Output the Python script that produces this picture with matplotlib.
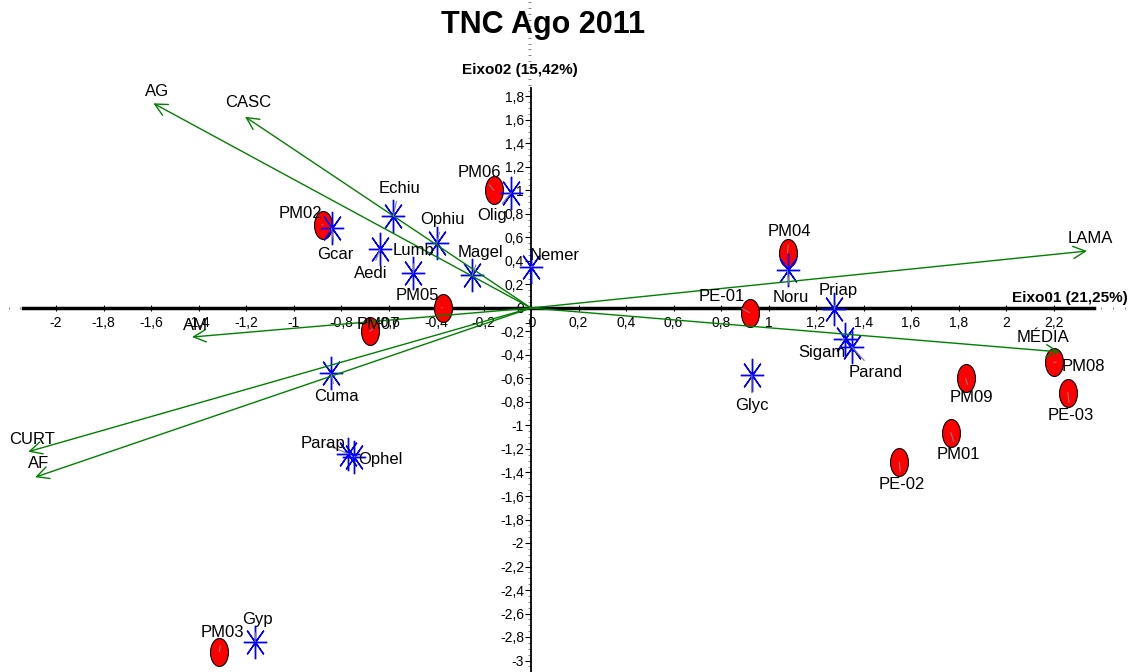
import numpy as np
from matplotlib import pyplot as plt
from matplotlib import font_manager
from matplotlib.markers import MarkerStyle
from matplotlib.transforms import Affine2D
from matplotlib.ticker import MultipleLocator, FuncFormatter

# Pick a narrow sans font if one is installed
names = {f.name for f in font_manager.fontManager.ttflist}
base_font = "Liberation Sans Narrow" if "Liberation Sans Narrow" in names else "Liberation Sans"
plt.rcParams["font.family"] = [base_font, "DejaVu Sans"]

# Sites (red ellipses)
site_names = ["PM06", "PM02", "PM05", "PM07", "PM04", "PE-01", "PM08", "PE-03",
              "PM09", "PM01", "PE-02", "PM03"]
site_x = [-0.156, -0.876, -0.372, -0.678, 1.08, 0.92, 2.20, 2.26, 1.83, 1.768, 1.551, -1.312]
site_y = [1.00, 0.706, 0.0, -0.20, 0.47, -0.04, -0.46, -0.72, -0.60, -1.061, -1.313, -2.925]

# Taxa (blue asterisks)
taxa_names = ["Olig", "Gcar", "Echiu", "Aedi", "Ophiu", "Lumb", "Magel", "Nemer", "Noru",
              "Priap", "Sigam", "Parand", "Glyc", "Cuma", "Parap", "Ophel", "Gyp"]
taxa_x = [-0.084, -0.84, -0.58, -0.636, -0.397, -0.495, -0.247, 0.0, 1.08,
          1.277, 1.32, 1.35, 0.93, -0.843, -0.769, -0.745, -1.162]
taxa_y = [0.98, 0.68, 0.78, 0.50, 0.55, 0.30, 0.28, 0.35, 0.32,
          -0.01, -0.26, -0.33, -0.57, -0.556, -1.24, -1.265, -2.84]

# Environmental vectors (green arrows)
vec_names = ["AG", "CASC", "LAMA", "MÉDIA", "AM", "CURT", "AF"]
vec_x = [-1.590, -1.204, 2.341, 2.227, -1.427, -2.117, -2.088]
vec_y = [1.742, 1.628, 0.485, -0.374, -0.247, -1.223, -1.44]

# label offsets in pixels (layout only)
site_off = {"PM06": (-15, 18), "PM02": (-23, 12), "PM05": (-25, 12), "PM07": (8, 7),
            "PM04": (2, 21), "PE-01": (-28, 16), "PM08": (30, -4), "PE-03": (3, -23),
            "PM09": (6, -19), "PM01": (7, -22), "PE-02": (2, -22), "PM03": (3, 19)}
taxa_off = {"Olig": (-19, -23), "Gcar": (4, -26), "Echiu": (6, 28), "Aedi": (-9, -24),
            "Ophiu": (6, 24), "Lumb": (0, 22), "Magel": (8, 23), "Nemer": (24, 11),
            "Noru": (3, -27), "Priap": (4, 19), "Sigam": (-23, -14), "Parand": (24, -26),
            "Glyc": (0, -31), "Cuma": (6, -23), "Parap": (-25, 10), "Ophel": (26, -3),
            "Gyp": (2, 22)}
vec_off = {"AG": (4, 12), "CASC": (3, 14), "LAMA": (3, 13), "MÉDIA": (-17, 14),
           "AM": (3, 12), "CURT": (4, 12), "AF": (3, 14)}

green = "#008000"
lab_size = 12

fig = plt.figure(figsize=(11.35, 6.72), dpi=100)
ax = fig.add_axes([0, 0, 1, 1])
ax.set_xlim(-531 / 237.5, (1135 - 531) / 237.5)
ax.set_ylim((308 - 672) / 117.5, 308 / 117.5)

# axes through the origin
for s in ["top", "right"]:
    ax.spines[s].set_visible(False)
ax.spines["left"].set_position(("data", 0))
ax.spines["bottom"].set_position(("data", 0))
ax.spines["bottom"].set_bounds(-2.14, 2.37)
ax.spines["left"].set_bounds(-3.1, 1.87)
ax.spines["bottom"].set_linewidth(2.5)
ax.spines["left"].set_linewidth(1.3)

fmt = FuncFormatter(lambda v, p: ("%g" % round(v, 2)).replace(".", ","))
ax.set_xticks(np.round(np.arange(-2, 2.21, 0.2), 2))
ax.set_yticks(np.round(np.arange(-3, 1.81, 0.2), 2))
ax.xaxis.set_major_formatter(fmt)
ax.yaxis.set_major_formatter(fmt)
ax.xaxis.set_minor_locator(MultipleLocator(0.05))
ax.yaxis.set_minor_locator(MultipleLocator(0.05))
ax.tick_params(axis="x", which="major", direction="inout", length=5, width=0.8, labelsize=10, pad=3)
ax.tick_params(axis="y", which="major", direction="out", length=4, width=0.8, labelsize=10, pad=1)
ax.tick_params(which="minor", length=2, width=0.5, color="#555555")
ax.tick_params(axis="x", which="minor", direction="inout")

# green arrows from origin
for name, x, y in zip(vec_names, vec_x, vec_y):
    ax.annotate("", xy=(x, y), xytext=(0, 0),
                arrowprops=dict(arrowstyle="->", color=green, lw=1, shrinkA=0, shrinkB=0,
                                mutation_scale=22), zorder=4)
    ax.annotate(name, xy=(x, y), xytext=vec_off[name], textcoords="offset pixels",
                ha="center", va="center", fontsize=lab_size, zorder=6)

# sites
ell = MarkerStyle("o", transform=Affine2D().scale(0.64, 1.0))
ax.scatter(site_x, site_y, marker=ell, s=406, c="red", edgecolors="black", linewidths=0.8, zorder=3)

# taxa
star = MarkerStyle((8, 2, 0), transform=Affine2D().scale(0.7, 1.0))
ax.plot(taxa_x, taxa_y, ls="none", marker=star, ms=24, mec="blue", mew=1, zorder=3)

for names_, xs, ys, offs in [(site_names, site_x, site_y, site_off),
                             (taxa_names, taxa_x, taxa_y, taxa_off)]:
    for name, x, y in zip(names_, xs, ys):
        ax.annotate(name, xy=(x, y), xytext=offs[name], textcoords="offset pixels",
                    ha="center", va="center", fontsize=lab_size, zorder=6,
                    arrowprops=dict(arrowstyle="-", color="gray", lw=0.8, shrinkA=2, shrinkB=0))

fig.text(1128 / 1135, 1 - 298 / 672, "Eixo01 (21,25%)", ha="right", va="center",
         fontsize=11, fontweight="bold")
fig.text(520 / 1135, 1 - 70 / 672, "Eixo02 (15,42%)", ha="center", va="center",
         fontsize=11, fontweight="bold")
fig.text(543 / 1135, 1 - 25 / 672, "TNC Ago 2011", ha="center", va="center",
         fontsize=22, fontweight="bold")

fig.savefig("out.png", dpi=100)
